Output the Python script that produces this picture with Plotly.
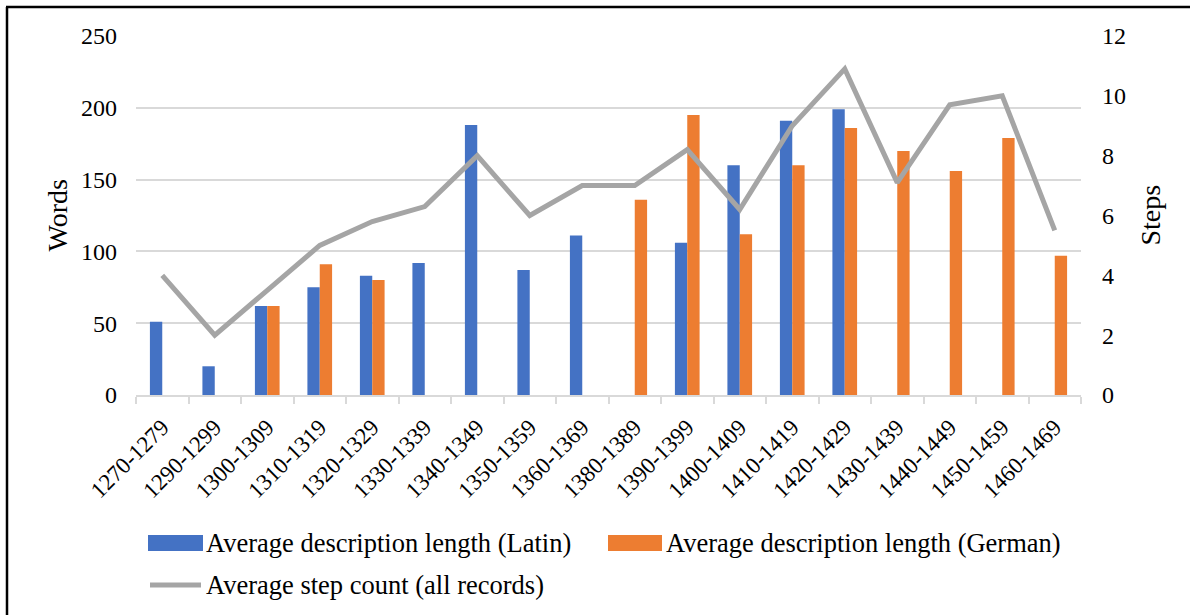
import plotly.graph_objects as go

# Decades covered by the records
decades = ["1270-1279", "1290-1299", "1300-1309", "1310-1319", "1320-1329",
           "1330-1339", "1340-1349", "1350-1359", "1360-1369", "1380-1389",
           "1390-1399", "1400-1409", "1410-1419", "1420-1429", "1430-1439",
           "1440-1449", "1450-1459", "1460-1469"]

# Average description length in words (None = no records in that language)
latin_words = [51, 20, 62, 75, 83, 92, 188, 87, 111, None,
               106, 160, 191, 199, None, None, None, None]
german_words = [None, None, 62, 91, 80, None, None, None, None, 136,
                195, 112, 160, 186, 170, 156, 179, 97]

# Average step count across all records
step_count = [4.0, 2.0, 3.5, 5.0, 5.8, 6.3, 8.0, 6.0, 7.0, 7.0,
              8.2, 6.2, 9.0, 10.9, 7.1, 9.7, 10.0, 5.5]

left_ticks = [0, 50, 100, 150, 200, 250]
right_ticks = [0, 2, 4, 6, 8, 10, 12]

BLUE = "#4472C4"
ORANGE = "#ED7D31"
GREY = "#A5A5A5"
GRID = "#D9D9D9"
FONT = "Liberation Serif"

W, H = 1190, 615
L, R, T, B = 136, 109, 36, 220
PW, PH = W - L - R, H - T - B


def px(x):
    return (x - L) / PW


def py(y):
    return (H - B - y) / PH


fig = go.Figure()
fig.add_trace(go.Bar(x=decades, y=latin_words, name="Average description length (Latin)",
                     marker=dict(color=BLUE, line=dict(width=0)), showlegend=False))
fig.add_trace(go.Bar(x=decades, y=german_words, name="Average description length (German)",
                     marker=dict(color=ORANGE, line=dict(width=0)), showlegend=False))
fig.add_trace(go.Scatter(x=decades, y=step_count, name="Average step count (all records)",
                         mode="lines", yaxis="y2",
                         line=dict(color=GREY, width=5), showlegend=False))

shapes = [
    # outer frame (left and top edges)
    dict(type="line", xref="paper", yref="paper", x0=px(7), x1=px(7), y0=py(7), y1=py(640),
         line=dict(color="black", width=2.5)),
    dict(type="line", xref="paper", yref="paper", x0=px(6), x1=px(1220), y0=py(7), y1=py(7),
         line=dict(color="black", width=2.5)),
    # legend keys
    dict(type="rect", xref="paper", yref="paper", x0=px(148), x1=px(203), y0=py(551), y1=py(535),
         fillcolor=BLUE, line=dict(width=0)),
    dict(type="rect", xref="paper", yref="paper", x0=px(608), x1=px(662), y0=py(551), y1=py(535),
         fillcolor=ORANGE, line=dict(width=0)),
    dict(type="line", xref="paper", yref="paper", x0=px(150), x1=px(201), y0=py(585), y1=py(585),
         line=dict(color=GREY, width=5)),
]

legend_font = dict(size=26.5, color="black", family=FONT)
title_font = dict(size=28, color="black", family=FONT)

annotations = [
    dict(text="Words", xref="paper", yref="paper", x=px(57), y=0.5, textangle=-90,
         xanchor="center", yanchor="middle", showarrow=False, font=title_font),
    dict(text="Steps", xref="paper", yref="paper", x=px(1150), y=0.5, textangle=-90,
         xanchor="center", yanchor="middle", showarrow=False, font=title_font),
    dict(text="Average description length (Latin)", xref="paper", yref="paper",
         x=px(204), y=py(543), xanchor="left", yanchor="middle", showarrow=False,
         font=legend_font),
    dict(text="Average description length (German)", xref="paper", yref="paper",
         x=px(664), y=py(543), xanchor="left", yanchor="middle", showarrow=False,
         font=legend_font),
    dict(text="Average step count (all records)", xref="paper", yref="paper",
         x=px(204), y=py(585), xanchor="left", yanchor="middle", showarrow=False,
         font=legend_font),
]

fig.update_layout(
    width=W, height=H,
    margin=dict(l=L, r=R, t=T, b=B),
    paper_bgcolor="white", plot_bgcolor="white",
    font=dict(family=FONT, color="black", size=24),
    barmode="group", bargap=0.53, bargroupgap=0,
    showlegend=False,
    xaxis=dict(type="category", tickangle=-45, tickson="boundaries",
               ticks="outside", ticklen=7, tickcolor=GRID, tickwidth=1.5,
               showline=True, linecolor=GRID, linewidth=1.5,
               showgrid=False, ticklabelstandoff=8, tickfont=dict(size=23)),
    yaxis=dict(range=[0, 250], tickvals=left_ticks, showgrid=True, gridcolor=GRID,
               gridwidth=1.5, zeroline=False, showline=False, ticks="",
               ticklabelstandoff=18, tickfont=dict(size=24)),
    yaxis2=dict(range=[0, 12], tickvals=right_ticks, overlaying="y", side="right",
                showgrid=False, zeroline=False, showline=False, ticks="",
                ticklabelstandoff=20, tickfont=dict(size=24)),
    shapes=shapes,
    annotations=annotations,
)

fig.write_html("out.html")
